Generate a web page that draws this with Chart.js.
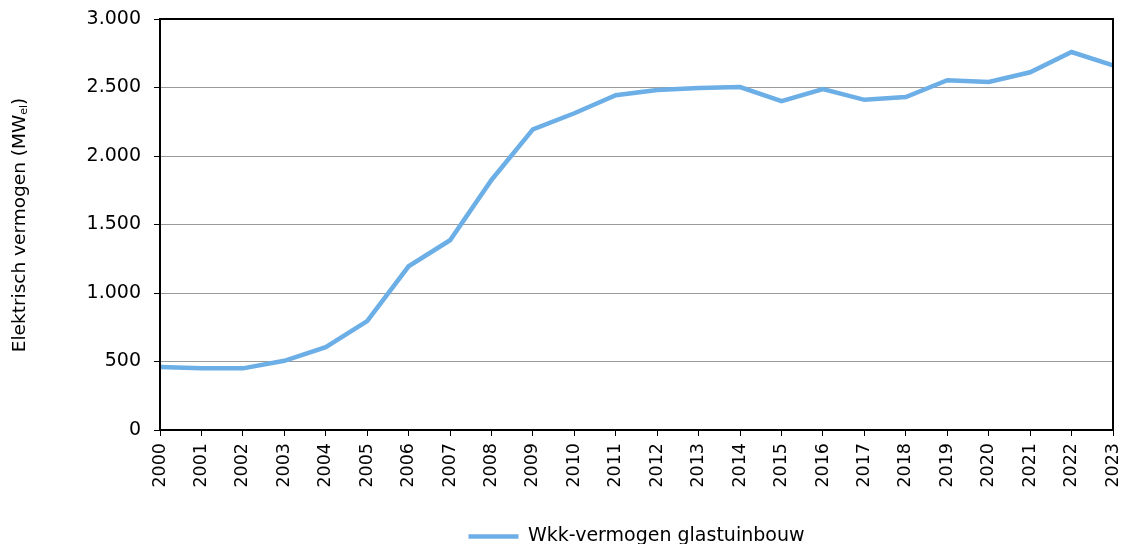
<!DOCTYPE html>
<html>
<head>
<meta charset="utf-8">
<script src="https://cdn.jsdelivr.net/npm/chart.js@4.4.1/dist/chart.umd.min.js"></script>
<style>
  html, body { margin: 0; padding: 0; background: #fff; }
  #wrap { width: 1122px; height: 544px; }
</style>
</head>
<body>
<div id="wrap"><canvas id="wkkChart"></canvas></div>
<script>
var jaren = ['2000','2001','2002','2003','2004','2005','2006','2007','2008','2009','2010','2011',
             '2012','2013','2014','2015','2016','2017','2018','2019','2020','2021','2022','2023']
var vermogen = [460, 450, 450, 505, 605, 795, 1195, 1385, 1825, 2195, 2312, 2443,
                2482, 2496, 2503, 2401, 2488, 2410, 2430, 2553, 2540, 2611, 2759, 2661]
var yTicks = [0, 500, 1000, 1500, 2000, 2500, 3000]
var serieNaam = 'Wkk-vermogen glastuinbouw'
var lijnKleur = '#6caee6'
var fontFam = '"DejaVu Sans", Verdana, sans-serif'

// y-as titel met subscript "el"
var yTitelPlugin = {
  id: 'yTitel',
  afterDraw: function(chart){
    var ctx = chart.ctx
    ctx.save()
    ctx.fillStyle = '#000'
    ctx.textBaseline = 'middle'
    var f1 = '18.5px ' + fontFam
    var f2 = '11px ' + fontFam
    var deel1 = 'Elektrisch vermogen (MW'
    var sub = 'el'
    var deel2 = ')'
    ctx.font = f1
    var w1 = ctx.measureText(deel1).width
    var w3 = ctx.measureText(deel2).width
    ctx.font = f2
    var w2 = ctx.measureText(sub).width
    var totaal = w1 + w2 + w3
    ctx.translate(20, 225)
    ctx.rotate(-Math.PI / 2)
    var x = -totaal / 2
    ctx.font = f1
    ctx.fillText(deel1, x, 0)
    ctx.font = f2
    ctx.fillText(sub, x + w1, 4)
    ctx.font = f1
    ctx.fillText(deel2, x + w1 + w2, 0)
    ctx.restore()
  }
}

// zwarte rand rond het plotgebied
var randPlugin = {
  id: 'rand',
  afterDatasetsDraw: function(chart){
    var a = chart.chartArea
    var ctx = chart.ctx
    ctx.save()
    ctx.strokeStyle = '#000'
    ctx.lineWidth = 2
    ctx.strokeRect(a.left, a.top, a.right - a.left, a.bottom - a.top)
    ctx.restore()
  }
}

var wkkChart = new Chart(document.getElementById('wkkChart'), {
  type: 'line',
  data: {
    labels: jaren,
    datasets: [{
      label: serieNaam,
      data: vermogen,
      borderColor: lijnKleur,
      backgroundColor: lijnKleur,
      borderWidth: 4.5,
      pointRadius: 0,
      tension: 0,
      fill: false,
      clip: false
    }]
  },
  options: {
    responsive: true,
    maintainAspectRatio: false,
    animation: false,
    devicePixelRatio: 1,
    layout: { padding: { left: 0, right: 9, top: 19, bottom: -12 } },
    plugins: {
      tooltip: { enabled: false },
      legend: {
        position: 'bottom',
        fullSize: false,
        labels: {
          usePointStyle: true,
          pointStyle: 'line',
          pointStyleWidth: 50,
          boxHeight: 4,
          padding: 4,
          color: '#000',
          font: { family: fontFam, size: 19 }
        }
      }
    },
    scales: {
      x: {
        afterFit: function(scale){
          scale.height = 93
          scale.paddingLeft = 0
          scale.paddingRight = 0
        },
        grid: { drawOnChartArea: false, tickLength: 6, tickColor: '#000', tickWidth: 1 },
        border: { color: '#000', width: 2 },
        ticks: {
          autoSkip: false, maxRotation: 90, minRotation: 90, padding: 7,
          color: '#000', font: { family: fontFam, size: 17.5 }
        }
      },
      y: {
        min: 0, max: 3000,
        afterFit: function(scale){
          scale.width = 160
          scale.paddingTop = 0
          scale.paddingBottom = 0
        },
        afterBuildTicks: function(scale){ scale.ticks = yTicks.map(function(v){ return { value: v } }) },
        grid: { color: '#9a9a9a', lineWidth: 1, tickLength: 6, tickColor: '#000' },
        border: { color: '#000', width: 2 },
        ticks: {
          padding: 13, color: '#000', font: { family: fontFam, size: 19 },
          callback: function(v){ return v.toLocaleString('nl-NL') }
        }
      }
    }
  },
  plugins: [yTitelPlugin, randPlugin]
})
</script>
</body>
</html>
